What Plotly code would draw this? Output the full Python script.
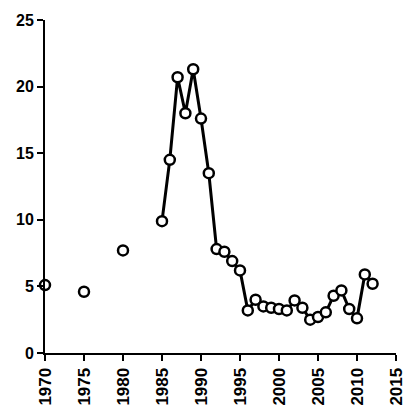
import plotly.graph_objects as go

early_years = [1970, 1975, 1980]
early_values = [5.1, 4.6, 7.7]

years = list(range(1985, 2013))
values = [9.9, 14.5, 20.7, 18.0, 21.3, 17.6, 13.5, 7.8, 7.6, 6.9, 6.2, 3.2,
          4.0, 3.5, 3.4, 3.3, 3.2, 3.95, 3.4, 2.5, 2.7, 3.05, 4.3, 4.7, 3.3,
          2.6, 5.9, 5.2]

x_ticks = list(range(1970, 2016, 5))
y_ticks = [0, 5, 10, 15, 20, 25]

marker = dict(symbol="circle", size=10, color="white",
              line=dict(color="black", width=2.5))

fig = go.Figure()
fig.add_trace(go.Scatter(x=years, y=values, mode="lines+markers",
                         line=dict(color="black", width=3), marker=marker,
                         showlegend=False))
fig.add_trace(go.Scatter(x=early_years, y=early_values, mode="markers",
                         marker=marker, showlegend=False, cliponaxis=False))

fam = "Liberation Sans, Arial, sans-serif"

fig.update_layout(
    width=418, height=418,
    margin=dict(l=45, r=13, t=13, b=64),
    paper_bgcolor="white", plot_bgcolor="white",
    font=dict(family=fam, size=16, color="black"),
    xaxis=dict(range=[1970, 2015], tickvals=x_ticks, tickangle=-90,
               showgrid=False, zeroline=False, showline=True,
               linecolor="black", linewidth=2, ticks="outside",
               ticklen=6, tickwidth=2, tickcolor="black",
               tickfont=dict(size=17, family=fam, color="black", weight="bold")),
    yaxis=dict(range=[0, 25], tickvals=y_ticks,
               showgrid=False, zeroline=False, showline=True,
               linecolor="black", linewidth=2, ticks="outside",
               ticklen=6, tickwidth=2, tickcolor="black",
               tickfont=dict(size=16, family=fam, color="black", weight="bold")),
)

fig.write_html("out.html")
